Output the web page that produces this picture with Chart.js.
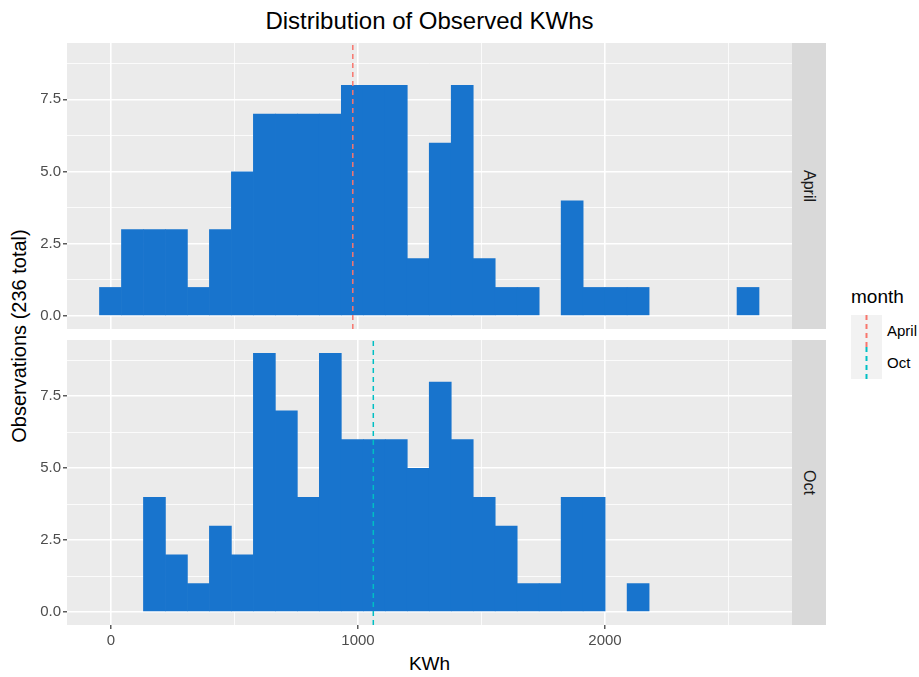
<!DOCTYPE html>
<html>
<head>
<meta charset="utf-8">
<script src="https://cdn.jsdelivr.net/npm/chart.js@4.4.1/dist/chart.umd.min.js"></script>
<style>
  body { margin: 0; width: 919px; height: 677px; background: #fff; position: relative; overflow: hidden;
         font-family: "Liberation Sans", Arial, sans-serif; }
  .abs { position: absolute; }
  canvas { position: absolute; left: 0; }
  .strip { position: absolute; left: 792px; width: 34px; background: #D9D9D9; color: #1A1A1A;
           font-size: 16px; display: flex; align-items: center; justify-content: center; }
  .strip span { writing-mode: vertical-rl; }
  .key { position: absolute; left: 851px; width: 31px; height: 32px; background: #F2F2F2; }
  .lbl { position: absolute; left: 887px; font-size: 15px; color: #000; line-height: 18px; }
</style>
</head>
<body>
<div class="abs" style="left:0;width:859px;top:7px;text-align:center;font-size:24px;line-height:28px;color:#000">Distribution of Observed KWhs</div>
<div class="abs" style="left:19px;top:336px;width:0;height:0">
  <div style="position:absolute;transform:translate(-50%,-50%) rotate(-90deg);white-space:nowrap;font-size:20px;line-height:22px;color:#000">Observations (236 total)</div>
</div>
<div class="abs" style="left:0;width:859px;top:653px;text-align:center;font-size:19px;line-height:22px;color:#000">KWh</div>

<canvas id="april" width="792" height="286" style="top:43px;width:792px;height:286px"></canvas>
<canvas id="oct" width="792" height="312" style="top:340px;width:792px;height:312px"></canvas>

<div class="strip" style="top:43px;height:286px"><span>April</span></div>
<div class="strip" style="top:340px;height:285px"><span>Oct</span></div>

<div class="abs" style="left:851px;top:286px;font-size:19px;line-height:22px;color:#000">month</div>
<svg class="key" style="top:315px" width="31" height="32"><line x1="15.5" y1="0" x2="15.5" y2="32" stroke="#F8766D" stroke-width="2" stroke-dasharray="5 4"/></svg>
<svg class="key" style="top:347px" width="31" height="32"><line x1="15.5" y1="0" x2="15.5" y2="32" stroke="#00BFC4" stroke-width="2" stroke-dasharray="5 4"/></svg>
<div class="lbl" style="top:322px">April</div>
<div class="lbl" style="top:354px">Oct</div>

<script>
// histogram bins (centre of each 89 kWh bin)
const binCenters = [-2, 87, 176, 265, 354, 443, 532, 621, 710, 799, 888, 977, 1066, 1155, 1244,
  1333, 1422, 1511, 1600, 1689, 1778, 1867, 1956, 2045, 2134, 2223, 2312, 2401, 2490, 2579]
const aprilCounts = [1, 3, 3, 3, 1, 3, 5, 7, 7, 7, 7, 8, 8, 8, 2, 6, 8, 2, 1, 1, 0, 4, 1, 1, 1, 0, 0, 0, 0, 1]
const octCounts = [0, 0, 4, 2, 1, 3, 2, 9, 7, 4, 9, 6, 6, 6, 5, 8, 6, 4, 3, 1, 1, 4, 4, 0, 1, 0, 0, 0, 0, 0]
const aprilMean = 979
const octMean = 1062
const xGrid = [0, 500, 1000, 1500, 2000, 2500]
const xLabels = [0, 1000, 2000]
const yGrid = [0, 1.25, 2.5, 3.75, 5, 6.25, 7.5, 8.75]
const yLabels = [0, 2.5, 5, 7.5]

const font = { family: '"Liberation Sans", Arial, sans-serif', size: 15 }

const panelBg = {
  id: 'panelBg',
  beforeDraw (chart) {
    const { ctx, chartArea: a } = chart
    ctx.save()
    ctx.fillStyle = '#EBEBEB'
    ctx.fillRect(a.left, a.top, a.width, a.height)
    ctx.restore()
  }
}

function isMajor (list, v) {
  return list.some(l => Math.abs(l - v) < 1e-6)
}

function makePanel (id, counts, mean, color, showX) {
  const ctx = document.getElementById(id).getContext('2d')
  return new Chart(ctx, {
    type: 'bar',
    data: {
      datasets: [{
        type: 'line',
        data: [{ x: mean, y: -0.45 }, { x: mean, y: 9.45 }],
        borderColor: color,
        borderWidth: 1.5,
        borderDash: [5, 4],
        pointRadius: 0,
        fill: false,
        order: 0
      }, {
        type: 'bar',
        data: binCenters.map((x, i) => ({ x: x, y: counts[i] })),
        backgroundColor: c => (c.raw && c.raw.y > 0) ? '#1874CD' : 'rgba(0,0,0,0)',
        borderWidth: 0,
        // a hair wider than the bin so neighbouring bars leave no seam
        barPercentage: 1.03,
        categoryPercentage: 1,
        order: 1
      }]
    },
    options: {
      responsive: false,
      animation: false,
      events: [],
      layout: { padding: 0 },
      plugins: { legend: { display: false }, tooltip: { enabled: false } },
      scales: {
        x: {
          type: 'linear',
          min: -178,
          max: 2757,
          offset: false,
          border: { display: false },
          grid: {
            offset: false,
            color: '#FFFFFF',
            lineWidth: c => (c.tick && isMajor(xLabels, c.tick.value)) ? 1.6 : 0.8,
            drawTicks: showX,
            tickLength: 4,
            tickWidth: 1.2,
            tickColor: c => (c.tick && isMajor(xLabels, c.tick.value)) ? '#333333' : 'rgba(0,0,0,0)'
          },
          ticks: {
            display: showX,
            autoSkip: false,
            maxRotation: 0,
            padding: 3,
            color: '#4D4D4D',
            font: font,
            callback: v => isMajor(xLabels, v) ? String(v) : ''
          },
          afterBuildTicks: s => { s.ticks = xGrid.map(v => ({ value: v })) },
          afterFit: s => { s.height = showX ? 27 : 0; s.paddingLeft = 0; s.paddingRight = 0 }
        },
        y: {
          min: -0.45,
          max: 9.45,
          border: { display: false },
          grid: {
            color: '#FFFFFF',
            lineWidth: c => (c.tick && isMajor(yLabels, c.tick.value)) ? 1.6 : 0.8,
            tickLength: 4,
            tickWidth: 1.2,
            tickColor: c => (c.tick && isMajor(yLabels, c.tick.value)) ? '#333333' : 'rgba(0,0,0,0)'
          },
          ticks: {
            padding: 2,
            color: '#4D4D4D',
            font: font,
            callback: v => isMajor(yLabels, v) ? v.toFixed(1) : ''
          },
          afterBuildTicks: s => { s.ticks = yGrid.map(v => ({ value: v })) },
          afterFit: s => { s.width = 67; s.paddingTop = 0; s.paddingBottom = 0 }
        }
      }
    },
    plugins: [panelBg]
  })
}

makePanel('april', aprilCounts, aprilMean, '#F8766D', false)
makePanel('oct', octCounts, octMean, '#00BFC4', true)
</script>
</body>
</html>
